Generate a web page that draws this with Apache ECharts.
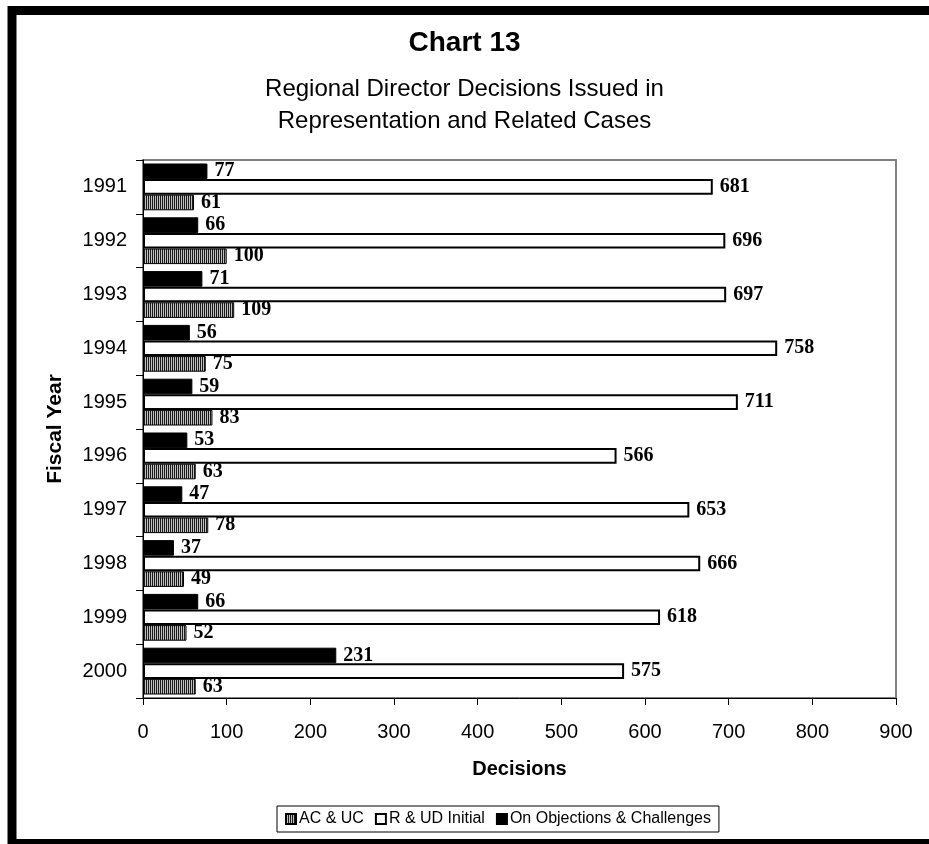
<!DOCTYPE html>
<html>
<head>
<meta charset="utf-8">
<script src="https://cdn.jsdelivr.net/npm/echarts@6/dist/echarts.min.js"></script>
<style>
  html, body { margin: 0; padding: 0; background: #fff; }
  #chart { width: 929px; height: 844px; }
</style>
</head>
<body>
<div id="chart"></div>
<script>
var years = ['1991', '1992', '1993', '1994', '1995', '1996', '1997', '1998', '1999', '2000'];
var acUc = [61, 100, 109, 75, 83, 63, 78, 49, 52, 63];
var rUdInitial = [681, 696, 697, 758, 711, 566, 653, 666, 618, 575];
var objections = [77, 66, 71, 56, 59, 53, 47, 37, 66, 231];
var xTicks = [0, 100, 200, 300, 400, 500, 600, 700, 800, 900];

(function() {
  // vertical stripe fill for AC & UC
  var c = document.createElement('canvas');
  c.width = 2; c.height = 2;
  var ctx = c.getContext('2d');
  ctx.fillStyle = '#c0c0c0';
  ctx.fillRect(0, 0, 2, 2);
  ctx.fillStyle = '#1a1a1a';
  ctx.fillRect(0, 0, 1, 2);
  var hatch = { image: c, repeat: 'repeat' };

  var serif = '"Liberation Serif", "Times New Roman", serif';
  var sans = '"Liberation Sans", Arial, sans-serif';

  var barLabel = {
    show: true,
    position: 'right',
    distance: 7,
    color: '#000',
    fontFamily: serif,
    fontWeight: 'bold',
    fontSize: 20
  };

  var chart = echarts.init(document.getElementById('chart'));
  chart.setOption({
    animation: false,
    backgroundColor: '#fff',
    title: {
      text: 'Chart 13',
      subtext: 'Regional Director Decisions Issued in\nRepresentation and Related Cases',
      left: 'center',
      top: 24,
      itemGap: 16,
      textStyle: { fontFamily: sans, fontSize: 28, fontWeight: 'bold', color: '#000' },
      subtextStyle: { fontFamily: sans, fontSize: 24, color: '#000', lineHeight: 32 }
    },
    legend: {
      data: ['AC & UC', 'R & UD Initial', 'On Objections & Challenges'],
      left: 277,
      top: 806,
      orient: 'horizontal',
      itemWidth: 10,
      itemHeight: 10,
      itemGap: 11,
      padding: [5, 8],
      borderColor: '#000',
      borderWidth: 1,
      icon: 'rect',
      textStyle: { fontFamily: sans, fontSize: 16, color: '#000', padding: [0, 0, 0, -2] }
    },
    grid: {
      left: 143, right: 33, top: 160, bottom: 146,
      show: true,
      borderColor: '#808080',
      borderWidth: 2,
      backgroundColor: '#fff'
    },
    xAxis: {
      type: 'value',
      min: xTicks[0],
      max: xTicks[xTicks.length - 1],
      interval: 100,
      name: 'Decisions',
      nameLocation: 'middle',
      nameGap: 61,
      nameTextStyle: { fontFamily: sans, fontSize: 20, fontWeight: 'bold', color: '#000' },
      axisLine: { show: true, lineStyle: { color: '#000', width: 1 } },
      axisTick: { show: true, length: 7, lineStyle: { color: '#000' } },
      splitLine: { show: false },
      axisLabel: { color: '#000', fontFamily: sans, fontSize: 20, margin: 24 }
    },
    yAxis: {
      type: 'category',
      data: years,
      inverse: true,
      name: 'Fiscal Year',
      nameLocation: 'middle',
      nameGap: 77,
      nameTextStyle: { fontFamily: sans, fontSize: 21, fontWeight: 'bold', color: '#000' },
      axisLine: { show: true, lineStyle: { color: '#000', width: 1 } },
      axisTick: { show: true, length: 7, lineStyle: { color: '#000' } },
      axisLabel: { color: '#000', fontFamily: sans, fontSize: 20, margin: 16 }
    },
    series: [
      {
        name: 'On Objections & Challenges',
        type: 'bar',
        data: objections,
        barGap: 0,
        barCategoryGap: '13%',
        itemStyle: { color: '#000', borderColor: '#000', borderWidth: 1 },
        label: barLabel
      },
      {
        name: 'R & UD Initial',
        type: 'bar',
        data: rUdInitial,
        barGap: 0,
        barCategoryGap: '13%',
        itemStyle: { color: '#fff', borderColor: '#000', borderWidth: 2 },
        label: barLabel
      },
      {
        name: 'AC & UC',
        type: 'bar',
        data: acUc,
        barGap: 0,
        barCategoryGap: '13%',
        itemStyle: { color: hatch, borderColor: '#000', borderWidth: 1 },
        label: barLabel
      }
    ],
    graphic: [{
      type: 'rect',
      z: 100,
      silent: true,
      shape: { x: 12, y: 10.5, width: 1000, height: 833 },
      style: { fill: 'none', stroke: '#000', lineWidth: 9 }
    }]
  });
  window.addEventListener('resize', function() { chart.resize(); });
})();
</script>
</body>
</html>
